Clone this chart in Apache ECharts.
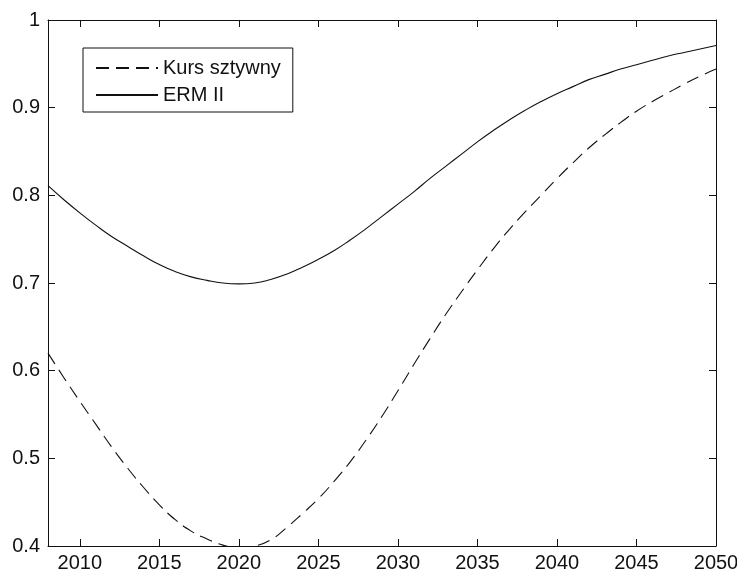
<!DOCTYPE html>
<html>
<head>
<meta charset="utf-8">
<script src="https://cdn.jsdelivr.net/npm/echarts@6/dist/echarts.min.js"></script>
<style>
  html, body { margin: 0; padding: 0; background: #fff; }
  #chart { width: 737px; height: 574px; }
</style>
</head>
<body>
<div id="chart"></div>
<script>
// Years covered by both scenarios
const years = [
  2008, 2009, 2010, 2011, 2012, 2013, 2014, 2015, 2016, 2017,
  2018, 2019, 2020, 2021, 2022, 2023, 2024, 2025, 2026, 2027,
  2028, 2029, 2030, 2031, 2032, 2033, 2034, 2035, 2036, 2037,
  2038, 2039, 2040, 2041, 2042, 2043, 2044, 2045, 2046, 2047,
  2048, 2049, 2050
];

// Fixed exchange rate scenario
const kursSztywny = [
  0.620, 0.592, 0.565, 0.539, 0.513, 0.489, 0.467, 0.447, 0.430, 0.417,
  0.408, 0.401, 0.398, 0.400, 0.407, 0.421, 0.437, 0.454, 0.474, 0.496,
  0.521, 0.548, 0.577, 0.607, 0.636, 0.664, 0.690, 0.715, 0.739, 0.761,
  0.781, 0.800, 0.819, 0.837, 0.854, 0.869, 0.883, 0.896, 0.907, 0.917,
  0.927, 0.936, 0.944
];

// ERM II scenario
const ermII = [
  0.811, 0.795, 0.780, 0.766, 0.753, 0.742, 0.731, 0.721, 0.713, 0.707,
  0.703, 0.700, 0.699, 0.700, 0.704, 0.710, 0.718, 0.727, 0.737, 0.749,
  0.762, 0.776, 0.790, 0.804, 0.819, 0.833, 0.847, 0.861, 0.874, 0.886,
  0.897, 0.907, 0.916, 0.924, 0.932, 0.938, 0.944, 0.949, 0.954, 0.959,
  0.963, 0.967, 0.971
];

const xTicks = [2010, 2015, 2020, 2025, 2030, 2035, 2040, 2045, 2050];
const yTicks = [0.4, 0.5, 0.6, 0.7, 0.8, 0.9, 1];

const FONT = "'Liberation Sans', Arial, sans-serif";
const FONT_SIZE = 20;
const INK = '#111';

const pairs = (ys) => years.map((y, i) => [y, ys[i]]);

const chart = echarts.init(document.getElementById('chart'), null, { renderer: 'canvas' });

const frameLine = { show: true, onZero: false, lineStyle: { color: INK, width: 1 } };
const innerTick = { show: true, inside: true, length: 7, lineStyle: { color: INK, width: 1 } };

chart.setOption({
  backgroundColor: '#fff',
  animation: false,
  grid: { left: 48, right: 21, top: 20, bottom: 28, containLabel: false, outerBoundsMode: 'none' },
  legend: {
    left: 83, top: 48,
    orient: 'vertical',
    backgroundColor: '#fff',
    borderColor: INK, borderWidth: 1, borderRadius: 0,
    padding: [10, 12, 7, 12],
    itemWidth: 62, itemHeight: 14, itemGap: 7,
    itemStyle: { opacity: 0 },
    textStyle: { fontFamily: FONT, fontSize: FONT_SIZE, color: INK },
    data: ['Kurs sztywny', 'ERM II']
  },
  xAxis: [
    {
      type: 'value', min: 2008, max: 2050, position: 'bottom',
      axisLine: frameLine,
      axisTick: Object.assign({ customValues: xTicks }, innerTick),
      axisLabel: { customValues: xTicks, fontFamily: FONT, fontSize: FONT_SIZE, color: INK, margin: 7,
                   formatter: v => String(v) },
      splitLine: { show: false }
    },
    {
      type: 'value', min: 2008, max: 2050, position: 'top',
      axisLine: frameLine,
      axisTick: Object.assign({ customValues: xTicks }, innerTick),
      axisLabel: { show: false },
      splitLine: { show: false }
    }
  ],
  yAxis: [
    {
      type: 'value', min: 0.4, max: 1, position: 'left',
      axisLine: frameLine,
      axisTick: Object.assign({ customValues: yTicks }, innerTick),
      axisLabel: { customValues: yTicks, fontFamily: FONT, fontSize: FONT_SIZE, color: INK, margin: 8,
                   formatter: v => String(Math.round(v * 10) / 10) },
      splitLine: { show: false }
    },
    {
      type: 'value', min: 0.4, max: 1, position: 'right',
      axisLine: frameLine,
      axisTick: Object.assign({ customValues: yTicks }, innerTick),
      axisLabel: { show: false },
      splitLine: { show: false }
    }
  ],
  series: [
    {
      name: 'Kurs sztywny', type: 'line', smooth: true, symbol: 'none',
      data: pairs(kursSztywny), clip: true,
      lineStyle: { color: INK, width: 1.1, type: [13, 7] },
      itemStyle: { color: INK }
    },
    {
      name: 'ERM II', type: 'line', smooth: true, symbol: 'none',
      data: pairs(ermII), clip: true,
      lineStyle: { color: INK, width: 1.1, type: 'solid' },
      itemStyle: { color: INK }
    }
  ]
});
</script>
</body>
</html>
